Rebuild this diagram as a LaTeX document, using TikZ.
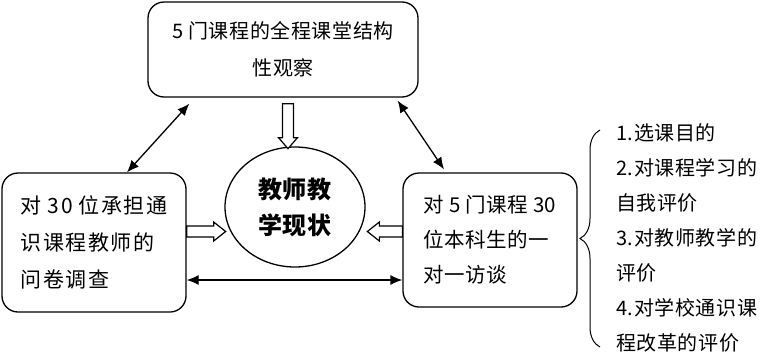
\documentclass[tikz,border=0pt]{standalone}
\usepackage{fontspec}
\setmainfont{Noto Sans CJK SC}
\usetikzlibrary{arrows.meta,shapes.geometric,decorations.pathreplacing}
\newcommand\myls[1]{\addfontfeature{LetterSpace=#1}}
\begin{document}
\begin{tikzpicture}[x=1pt,y=-1pt,
  box/.style={draw, line width=1.3pt, rounded corners=16pt, align=left, inner sep=0pt},
  link/.style={line width=1.3pt, {Latex[length=12pt,width=10pt]}-{Latex[length=12pt,width=10pt]}},
  hollow/.style={line width=1.2pt, fill=white, line join=miter}
]
\useasboundingbox (0,0) rectangle (768,362);
\node[box, align=center, font=\fontsize{20}{37}\selectfont\myls{3}, minimum width=270pt, minimum height=95pt] (T) at (283,49.5) {5 门课程的全程课堂结构\\性观察};
\node[box, font=\fontsize{21}{37}\selectfont\myls{7}, minimum width=184pt, minimum height=139pt] (L) at (94,242.5) {对 30 位承担通\\识课程教师的\\问卷调查};
\node[box, font=\fontsize{20.5}{35}\selectfont\myls{2}, minimum width=174pt, minimum height=134pt] (R) at (490,240) {对 5 门课程 30\\位本科生的一\\对一访谈};
\node[draw, ellipse, line width=1.3pt, inner sep=0pt, minimum width=140pt, minimum height=120pt, align=center,
  font=\fontsize{24}{36}\selectfont\bfseries\myls{2}] (E) at (295,207) {教师教\\学现状};
\node[anchor=west, align=left, inner sep=0pt, font=\fontsize{20}{35}\selectfont\myls{3}] (Lst) at (616,238)
  {1.选课目的\\2.对课程学习的\\自我评价\\3.对教师教学的\\评价\\4.对学校通识课\\程改革的评价};
% double-headed connectors
\draw[link] ([xshift=33pt]L.north) -- ([xshift=42pt,yshift=-6pt]T.south west);
\draw[link] ([xshift=-21pt,yshift=-3pt]T.south east) -- ([xshift=-46pt,yshift=3pt]R.north);
\draw[link] ([yshift=-37.5pt]L.east) -- ([yshift=-40pt]R.west);
% hollow arrows
\draw[hollow] (T.south) ++(-0.5,6) -- ++(11,0) -- ++(0,34) -- ++(4,0) -- ++(-9.5,11) -- ++(-9.5,-11) -- ++(4,0) -- cycle;
\draw[hollow] (L.east) ++(0,-16.5) -- ++(27,0) -- ++(0,-4) -- ++(12,9.5) -- ++(-12,9.5) -- ++(0,-4) -- ++(-27,0) -- cycle;
\draw[hollow] (R.west) ++(0,-14) -- ++(-23,0) -- ++(0,-4) -- ++(-12,9.5) -- ++(12,9.5) -- ++(0,-4) -- ++(23,0) -- cycle;
% brace
\draw[line width=1pt, decorate, decoration={brace, amplitude=20pt}] (600,347) -- (600,130);
\end{tikzpicture}
\end{document}
